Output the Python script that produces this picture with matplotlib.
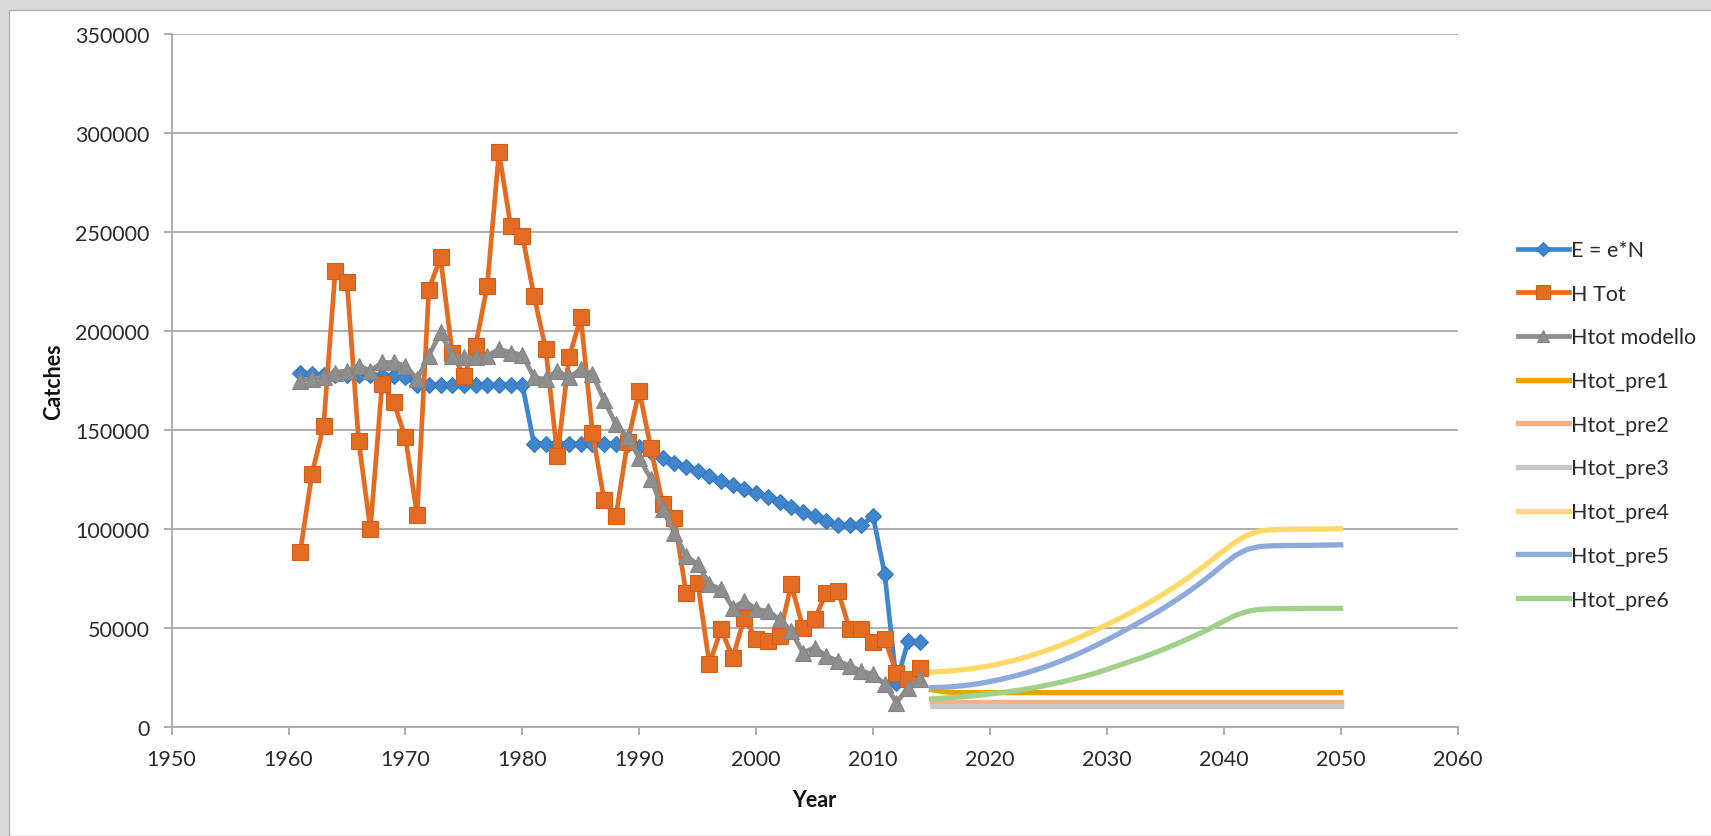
import matplotlib
matplotlib.use("Agg")
import matplotlib.pyplot as plt
from matplotlib.patches import Rectangle

plt.rcParams['font.family'] = ['Lato', 'DejaVu Sans']

# Dati storici 1961-2014
anni_storici = list(range(1961, 2015))

e_n = [179000, 178500, 178000, 178000, 178000, 178000, 178000, 177500, 177500, 177000,
       173000, 173000, 173000, 173000, 173000, 173000, 173000, 173000, 173000, 173000,
       143000, 143000, 143000, 143000, 143000, 143000, 143000, 143000, 143000, 141500,
       139000, 136000, 133500, 131500, 129500, 127000, 124500, 122500, 120200, 118300,
       116000, 113500, 111000, 108500, 106500, 104000, 102000, 102000, 102000, 106500,
       77300, 22500, 43500, 42800]

h_tot = [88500, 127800, 152200, 230500, 224900, 144600, 100000, 173200, 164000, 146300,
         107000, 220900, 237200, 189000, 177400, 192600, 222900, 290300, 253200, 248200,
         217800, 190900, 137000, 186700, 206900, 148800, 114500, 106500, 143800, 169800,
         140800, 112600, 105900, 68000, 73000, 31800, 49500, 35200, 55400, 44400,
         43600, 46100, 72200, 50300, 54500, 68000, 68800, 49500, 49500, 42800,
         44400, 27600, 24200, 30100]

htot_modello = [175000, 176000, 176600, 179100, 180000, 182500, 180000, 184200, 184200, 182500,
                175800, 187500, 199300, 187500, 186700, 186700, 187500, 190900, 189200, 188000,
                176600, 175800, 180000, 176600, 180800, 178300, 165000, 153000, 146500, 136000,
                125300, 110100, 98300, 86500, 82300, 72200, 69700, 60400, 63800, 59600,
                58700, 54500, 48600, 37700, 40200, 36000, 33500, 31000, 28400, 26800,
                21700, 12500, 20000, 24200]

# Previsioni 2015-2050
anni_prev = list(range(2015, 2051))

htot_pre1 = [19000, 18000, 17500, 17500, 17500, 17500, 17500, 17500, 17500, 17500,
             17500, 17500, 17500, 17500, 17500, 17500, 17500, 17500, 17500, 17500,
             17500, 17500, 17500, 17500, 17500, 17500, 17500, 17500, 17500, 17500,
             17500, 17500, 17500, 17500, 17500, 17500]
htot_pre2 = [13000, 13000, 13000, 13000, 13000, 13000, 13000, 13000, 13000, 13000,
             13000, 13000, 13000, 13000, 13000, 13000, 13000, 13000, 13000, 13000,
             13000, 13000, 13000, 13000, 13000, 13000, 13000, 13000, 13000, 13000,
             13000, 13000, 13000, 13000, 13000, 13000]
htot_pre3 = [10700, 10700, 10700, 10700, 10700, 10700, 10700, 10700, 10700, 10700,
             10700, 10700, 10700, 10700, 10700, 10700, 10700, 10700, 10700, 10700,
             10700, 10700, 10700, 10700, 10700, 10700, 10700, 10700, 10700, 10700,
             10700, 10700, 10700, 10700, 10700, 10700]
htot_pre4 = [27800, 28200, 28700, 29300, 30100, 31100, 32300, 33700, 35300, 37100,
             39100, 41300, 43700, 46300, 49000, 51800, 54700, 57700, 60900, 64300,
             67900, 71700, 75700, 80000, 84600, 89200, 93600, 97000, 99000, 99700,
             99900, 100000, 100000, 100100, 100100, 100200]
htot_pre5 = [20000, 20200, 20600, 21200, 22000, 23100, 24300, 25700, 27300, 29100,
             31100, 33300, 35700, 38300, 41100, 44100, 47200, 50400, 53700, 57100,
             60700, 64500, 68500, 72800, 77400, 82300, 86800, 89800, 91200, 91600,
             91700, 91800, 91800, 91900, 92000, 92100]
htot_pre6 = [14300, 14700, 15100, 15600, 16100, 16800, 17500, 18300, 19200, 20200,
             21400, 22700, 24100, 25600, 27300, 29200, 31200, 33200, 35200, 37400,
             39700, 42200, 44800, 47500, 50400, 53600, 56500, 58500, 59500, 59800,
             59900, 59900, 60000, 60000, 60000, 60000]

x_ticks = [1950, 1960, 1970, 1980, 1990, 2000, 2010, 2020, 2030, 2040, 2050, 2060]
y_ticks = [0, 50000, 100000, 150000, 200000, 250000, 300000, 350000]


fig = plt.figure(figsize=(17.11, 8.37), dpi=100)
fig.patch.set_facecolor('#dadada')
# riquadro bianco del grafico (come in Excel)
fig.patches.append(Rectangle((9 / 1711, 0), 1, 1 - 11 / 837, transform=fig.transFigure,
                             facecolor='white', edgecolor='#b0b0b0', lw=1, zorder=-5))

ax = fig.add_axes([0.1003, 0.1299, 0.7516, 0.8283])
ax.set_facecolor('none')

ax.plot(anni_storici, e_n, color='#3F86CC', lw=3.4, marker='D', ms=7.8,
        mec='#3579BD', mew=0.8, label='E = e*N')
ax.plot(anni_storici, h_tot, color='#E46C22', lw=3.4, marker='s', ms=12,
        mec='#D2601A', mew=0.8, label='H Tot')
ax.plot(anni_storici, htot_modello, color='#8E8E8E', lw=3.4, marker='^', ms=11,
        mec='#858585', mew=0.8, label='Htot modello')

ax.plot(anni_prev, htot_pre1, color='#E5A50A', lw=3.8, label='Htot_pre1')
ax.plot(anni_prev, htot_pre2, color='#F4B183', lw=3.8, label='Htot_pre2')
ax.plot(anni_prev, htot_pre3, color='#C8C8C8', lw=3.8, label='Htot_pre3')
ax.plot(anni_prev, htot_pre4, color='#FFD966', lw=3.8, label='Htot_pre4')
ax.plot(anni_prev, htot_pre5, color='#8EA9DB', lw=3.8, label='Htot_pre5')
ax.plot(anni_prev, htot_pre6, color='#A2D18A', lw=3.8, label='Htot_pre6')

ax.set_xlim(1950, 2060)
ax.set_ylim(0, 350000)
ax.set_xticks(x_ticks)
ax.set_xticklabels([str(t) for t in x_ticks])
ax.set_yticks(y_ticks)
ax.set_yticklabels([str(t) for t in y_ticks])

ax.grid(axis='y', color='#a8a8a8', lw=1.3)
ax.set_axisbelow(True)
for lato in ['top', 'right']:
    ax.spines[lato].set_visible(False)
for lato in ['left', 'bottom']:
    ax.spines[lato].set_color('#a8a8a8')
    ax.spines[lato].set_linewidth(1.3)
ax.tick_params(axis='both', colors='#a8a8a8', labelcolor='#2b2b2b', labelsize=15.5,
               length=6, width=1.3, pad=10)

ax.set_xlabel('Year', fontsize=15.5, fontweight='bold', color='#111111', labelpad=14)
ax.set_ylabel('Catches', fontsize=15.5, fontweight='bold', color='#111111', labelpad=7.5)

leg = ax.legend(loc='center left', bbox_to_anchor=(0.8872, 0.4913),
                bbox_transform=fig.transFigure, frameon=False, fontsize=15.5,
                handlelength=2.35, handletextpad=0.1, labelspacing=1.1,
                borderpad=0, borderaxespad=0, markerscale=0.85)
for testo in leg.get_texts():
    testo.set_color('#2b2b2b')

fig.savefig('out.png', dpi=100, facecolor=fig.get_facecolor())
